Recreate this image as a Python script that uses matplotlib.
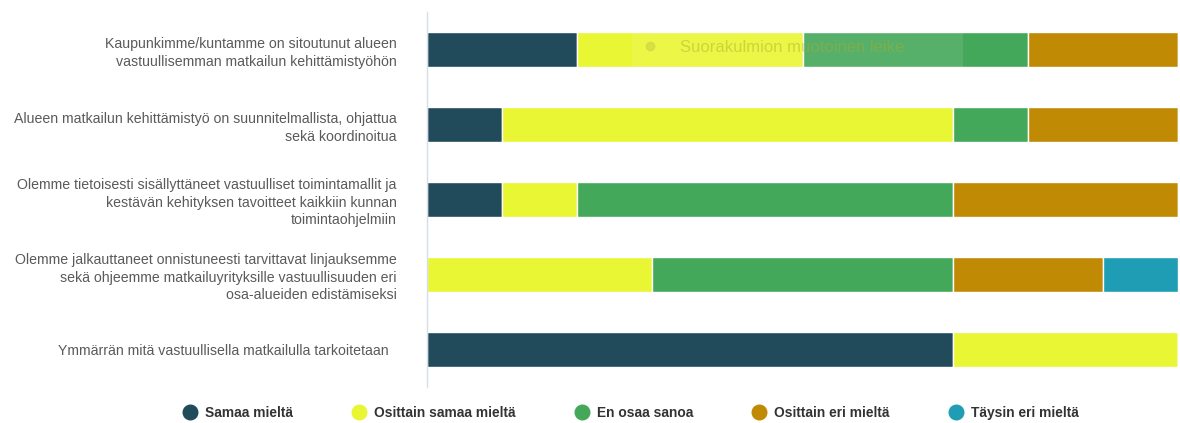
import matplotlib
matplotlib.use("Agg")
import matplotlib.pyplot as plt
import numpy as np
from matplotlib.lines import Line2D
from matplotlib.patches import Rectangle

plt.rcParams['font.family'] = ['Liberation Sans', 'DejaVu Sans']

categories = [
    "Kaupunkimme/kuntamme on sitoutunut alueen\nvastuullisemman matkailun kehittämistyöhön",
    "Alueen matkailun kehittämistyö on suunnitelmallista, ohjattua\nsekä koordinoitua",
    "Olemme tietoisesti sisällyttäneet vastuulliset toimintamallit ja\nkestävän kehityksen tavoitteet kaikkiin kunnan\ntoimintaohjelmiin",
    "Olemme jalkauttaneet onnistuneesti tarvittavat linjauksemme\nsekä ohjeemme matkailuyrityksille vastuullisuuden eri\nosa-alueiden edistämiseksi",
    "Ymmärrän mitä vastuullisella matkailulla tarkoitetaan  ",
]
series_names = ["Samaa mieltä", "Osittain samaa mieltä", "En osaa sanoa",
                "Osittain eri mieltä", "Täysin eri mieltä"]
samaa = [20, 10, 10, 0, 70]
osittain_samaa = [30, 60, 10, 30, 30]
en_osaa = [30, 10, 50, 40, 0]
osittain_eri = [20, 20, 30, 20, 0]
taysin_eri = [0, 0, 0, 10, 0]
colors = ["#214a5a", "#e9f633", "#43a85a", "#c08a05", "#1f9db5"]

data = [samaa, osittain_samaa, en_osaa, osittain_eri, taysin_eri]

W, H = 1180, 423
fig = plt.figure(figsize=(W/100, H/100), dpi=100)
ax = fig.add_axes([427/W, 1 - 387/H, (1178-427)/W, (387-12)/H])

y = np.arange(len(categories))
left = np.zeros(len(categories))
for vals, col in zip(data, colors):
    vals = np.array(vals, dtype=float)
    ax.barh(y, vals, left=left, height=0.47, color=col, edgecolor='white', linewidth=1.0)
    left += vals

ax.set_xlim(0, 100)
ax.set_ylim(len(categories) - 0.5, -0.5)
ax.set_yticks(y)
ax.set_yticklabels(categories, fontsize=10.2, color='#5a5a5a', linespacing=1.32)
ax.tick_params(axis='y', length=0, pad=22)
ax.set_xticks([])
for s in ['top', 'right', 'bottom']:
    ax.spines[s].set_visible(False)
ax.spines['left'].set_color('#d5dde6')
ax.spines['left'].set_linewidth(1.0)

# faint screenshot overlay ("Suorakulmion muotoinen leike")
fig.add_artist(Rectangle((632/W, 1 - 67/H), (963-632)/W, 35/H, transform=fig.transFigure,
                         facecolor='white', alpha=0.10, edgecolor='none'))
fig.add_artist(Line2D([650/W], [1 - 46/H], transform=fig.transFigure, marker='o',
                      markersize=6, color='#c8cc40', alpha=0.5, linestyle=''))
fig.text(680/W, 1 - 47/H, "Suorakulmion muotoinen leike", fontsize=12,
         color='#a9ae2a', alpha=0.45, va='center', ha='left')

handles = [Line2D([0], [0], marker='o', linestyle='', markersize=10.5,
                  markerfacecolor=c, markeredgecolor=c) for c in colors]
leg = fig.legend(handles, series_names, loc='center', bbox_to_anchor=(630/W, 1 - 413/H),
                 ncol=5, frameon=False, handletextpad=0.5, columnspacing=4.2,
                 handlelength=1.2, prop={'weight': 'bold', 'size': 9.9})
for t in leg.get_texts():
    t.set_color('#333333')

fig.savefig("out.png", dpi=100)
